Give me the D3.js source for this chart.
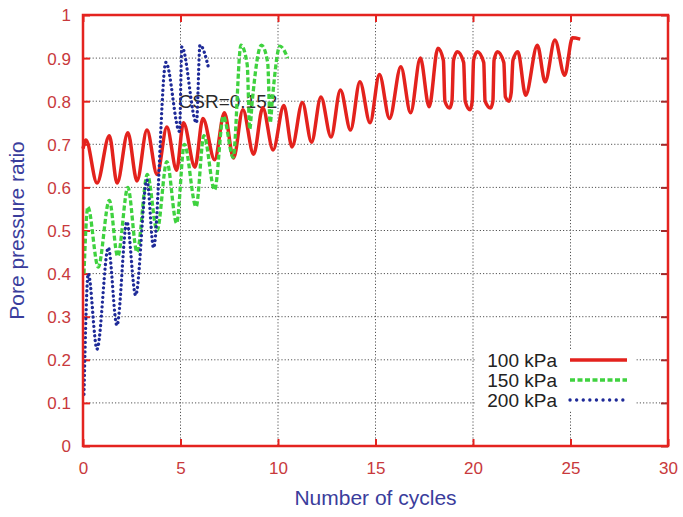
<!DOCTYPE html>
<html>
<head>
<meta charset="utf-8">
<script src="https://cdn.jsdelivr.net/npm/d3@7"></script>
<style>
  html, body { margin: 0; padding: 0; background: #fff; }
  svg { display: block; font-family: "Liberation Sans", Arial, sans-serif; }
</style>
</head>
<body>
<svg id="chart" width="683" height="517"></svg>
<script>
// ---- data ----
const xTicks = [0, 5, 10, 15, 20, 25, 30];
const yTicks = [0, 0.1, 0.2, 0.3, 0.4, 0.5, 0.6, 0.7, 0.8, 0.9, 1];
const seriesNames = ["100 kPa", "150 kPa", "200 kPa"];

// 100 kPa (red, solid)
const redX = [0, 0.15, 0.72, 1.35, 1.75, 2.3, 2.77, 3.28, 3.8, 4.3, 4.8, 5.15, 5.74, 6.15, 6.75, 7.25, 7.72, 8.2, 8.75, 9.22, 9.75, 10.3, 10.72, 11.25, 11.72, 12.2, 12.72, 13.2, 13.72, 14.2, 14.72, 15.2, 15.72, 16.3, 16.8, 17.3, 17.75, 18.2, 18.48, 18.56, 18.8, 18.92, 19.0, 19.2, 19.52, 19.6, 19.85, 19.96, 20.03, 20.22, 20.55, 20.62, 20.9, 21.02, 21.08, 21.25, 21.58, 21.66, 21.85, 21.96, 22.05, 22.3, 22.7, 23.3, 23.7, 24.2, 24.7, 25.1, 25.5];
const redY = [0.69, 0.71, 0.61, 0.72, 0.61, 0.727, 0.615, 0.733, 0.63, 0.74, 0.64, 0.75, 0.647, 0.76, 0.664, 0.773, 0.668, 0.78, 0.677, 0.785, 0.687, 0.79, 0.694, 0.797, 0.705, 0.81, 0.717, 0.826, 0.733, 0.845, 0.75, 0.862, 0.76, 0.88, 0.773, 0.9, 0.787, 0.923, 0.895, 0.80, 0.784, 0.80, 0.895, 0.915, 0.89, 0.80, 0.78, 0.80, 0.895, 0.915, 0.89, 0.80, 0.784, 0.80, 0.895, 0.915, 0.89, 0.81, 0.80, 0.82, 0.895, 0.915, 0.814, 0.93, 0.845, 0.942, 0.86, 0.947, 0.944];

// 150 kPa (green, dashed)
const greenX = [0.05, 0.25, 0.78, 1.35, 1.78, 2.3, 2.77, 3.3, 3.8, 4.3, 4.8, 5.2, 5.8, 6.2, 6.75, 7.2, 7.7, 8.1, 8.42, 8.55, 8.68, 9.15, 9.47, 9.6, 9.72, 10.1, 10.5];
const greenY = [0.40, 0.555, 0.415, 0.57, 0.44, 0.60, 0.45, 0.63, 0.50, 0.66, 0.517, 0.70, 0.555, 0.72, 0.594, 0.765, 0.67, 0.93, 0.885, 0.735, 0.80, 0.93, 0.89, 0.75, 0.81, 0.928, 0.90];

// 200 kPa (blue, dotted)
const blueX = [0.05, 0.27, 0.72, 1.3, 1.74, 2.25, 2.7, 3.28, 3.62, 4.25, 4.95, 5.07, 5.82, 6.0, 6.45];
const blueY = [0.12, 0.40, 0.225, 0.46, 0.28, 0.52, 0.35, 0.617, 0.46, 0.89, 0.73, 0.926, 0.75, 0.93, 0.875];

const csrLabel = "CSR=0.152";
const xTitle = "Number of cycles";
const yTitle = "Pore pressure ratio";

// ---- layout ----
const svg = d3.select("#chart");
const L = 83, R = 668, T = 15, B = 446;
const x = d3.scaleLinear().domain([0, 30]).range([L, R]);
const y = d3.scaleLinear().domain([0, 1]).range([B, T]);

const frameColor = "#e4231f";
const tickTextColor = "#c8393c";
const titleColor = "#3a3d9c";

// grid
const grid = svg.append("g");
grid.selectAll(".gx").data(xTicks.slice(1, -1)).join("line")
  .attr("x1", d => x(d)).attr("x2", d => x(d)).attr("y1", T).attr("y2", B)
  .attr("stroke", "#555").attr("stroke-width", 1).attr("stroke-dasharray", "1.2,2");
grid.selectAll(".gy").data(yTicks.slice(1, -1)).join("line")
  .attr("x1", L).attr("x2", R).attr("y1", d => y(d)).attr("y2", d => y(d))
  .attr("stroke", "#555").attr("stroke-width", 1).attr("stroke-dasharray", "1.2,2");

// CSR label (under the curves)
svg.append("text").attr("x", x(4.9)).attr("y", y(0.785))
  .attr("font-size", 19).attr("fill", "#2a2a2a").text(csrLabel);

// legend background box
svg.append("rect").attr("x", 475).attr("y", 349).attr("width", 161).attr("height", 62).attr("fill", "#fff");

// axes (ticks inside)
const tickLen = 7;
const axL = svg.append("g").attr("transform", `translate(${L},0)`)
  .call(d3.axisRight(y).tickValues(yTicks).tickSize(tickLen).tickFormat(""));
const axR = svg.append("g").attr("transform", `translate(${R},0)`)
  .call(d3.axisLeft(y).tickValues(yTicks).tickSize(tickLen).tickFormat(""));
const axB = svg.append("g").attr("transform", `translate(0,${B})`)
  .call(d3.axisTop(x).tickValues(xTicks).tickSize(tickLen).tickFormat(""));
const axT = svg.append("g").attr("transform", `translate(0,${T})`)
  .call(d3.axisBottom(x).tickValues(xTicks).tickSize(tickLen).tickFormat(""));
[axL, axB, axT].forEach(a => { a.select(".domain").remove(); a.selectAll("line").attr("stroke", frameColor).attr("stroke-width", 2); });
axR.select(".domain").remove();
axR.selectAll("line").attr("stroke", "#a02a2a").attr("stroke-width", 2);

// tick labels
const labL = svg.append("g").attr("transform", `translate(${L - 12},0)`)
  .call(d3.axisLeft(y).tickValues(yTicks).tickSize(0).tickFormat(d => d3.format("~g")(d)));
labL.select(".domain").remove();
labL.selectAll("text").attr("font-size", 17).attr("fill", tickTextColor)
  .attr("font-family", "Liberation Sans, Arial, sans-serif").attr("dy", "0.35em").attr("x", 0);
const labB = svg.append("g").attr("transform", `translate(0,${B + 14})`)
  .call(d3.axisBottom(x).tickValues(xTicks).tickSize(0).tickFormat(d => d));
labB.select(".domain").remove();
labB.selectAll("text").attr("font-size", 17).attr("fill", tickTextColor)
  .attr("font-family", "Liberation Sans, Arial, sans-serif").attr("y", 0).attr("dy", "0.8em");

// curves
const line = d3.line().x(d => x(d[0])).y(d => y(d[1])).curve(d3.curveMonotoneX);
const plotG = svg.append("g");
plotG.append("path").datum(redX.map((v, i) => [v, redY[i]])).attr("d", line)
  .attr("fill", "none").attr("stroke", "#e3221d").attr("stroke-width", 3.5).attr("stroke-linejoin", "round");
plotG.append("path").datum(greenX.map((v, i) => [v, greenY[i]])).attr("d", line)
  .attr("fill", "none").attr("stroke", "#3fd23f").attr("stroke-width", 3.3).attr("stroke-dasharray", "5,2.5");
plotG.append("path").datum(blueX.map((v, i) => [v, blueY[i]])).attr("d", line)
  .attr("fill", "none").attr("stroke", "#1e2a98").attr("stroke-width", 3.3)
  .attr("stroke-dasharray", "0.1,4.6").attr("stroke-linecap", "round");

// frame
svg.append("rect").attr("x", L).attr("y", T).attr("width", R - L).attr("height", B - T)
  .attr("fill", "none").attr("stroke", frameColor).attr("stroke-width", 2.5);

// legend
const legColors = ["#e3221d", "#3fd23f", "#1e2a98"];
const legDash = [null, "5,2.5", "0.1,6.5"];
const legCap = ["butt", "butt", "round"];
seriesNames.forEach((n, i) => {
  const by = 367 + i * 20;
  svg.append("text").attr("x", 557).attr("y", by).attr("text-anchor", "end")
    .attr("font-size", 19).attr("fill", "#222").text(n);
  svg.append("line").attr("x1", 570).attr("x2", i === 2 ? 623 : 627)
    .attr("y1", by - 7).attr("y2", by - 7)
    .attr("stroke", legColors[i]).attr("stroke-width", 3.3)
    .attr("stroke-dasharray", legDash[i]).attr("stroke-linecap", legCap[i]);
});

// axis titles
svg.append("text").attr("x", (L + R) / 2).attr("y", 505).attr("text-anchor", "middle")
  .attr("font-size", 21).attr("fill", titleColor).text(xTitle);
svg.append("text").attr("transform", `translate(24,${(T + B) / 2}) rotate(-90)`)
  .attr("text-anchor", "middle").attr("font-size", 21).attr("fill", titleColor).text(yTitle);
</script>
</body>
</html>
